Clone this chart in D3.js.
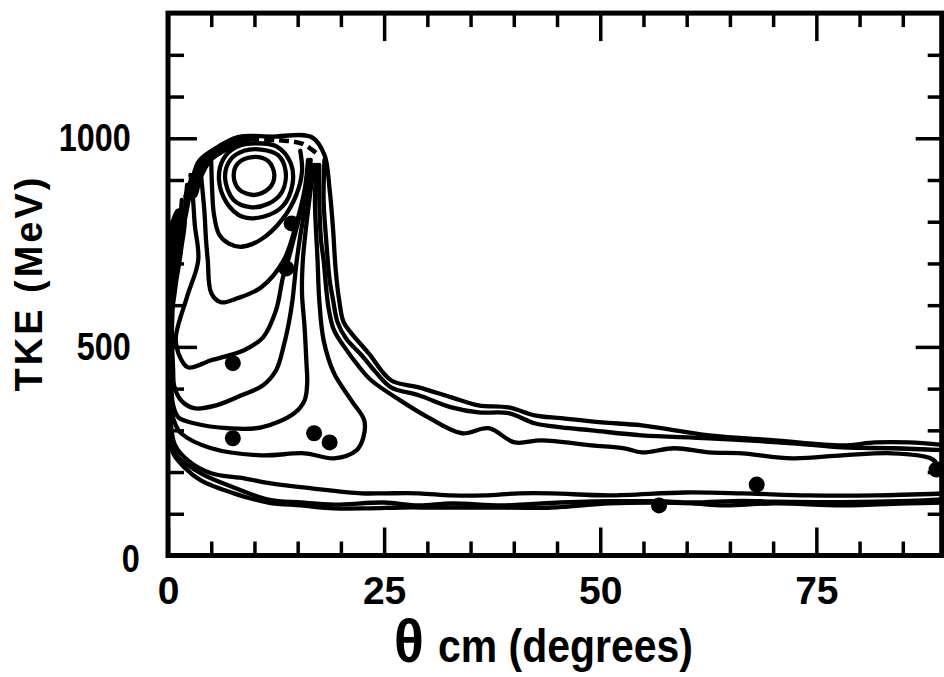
<!DOCTYPE html>
<html>
<head>
<meta charset="utf-8">
<script src="https://cdnjs.cloudflare.com/ajax/libs/d3/7.8.5/d3.min.js"></script>
<style>
body { margin: 0; background: #fff; }
svg { display: block; }
text { font-family: "Liberation Sans", Arial, Helvetica, sans-serif; font-weight: bold; fill: #000; }
</style>
</head>
<body>
<svg id="chart"></svg>
<script>

// contour lines, points are [theta cm (deg), TKE (MeV)]
let ring1 = [[7.6,910],[8.1,940],[9.8,955],[11.6,945],[12.3,912],[11.7,880],[9.9,864],[8.2,878]];
let ring2 = [[6.6,905],[7.2,948],[8.8,970],[10.8,973],[12.7,960],[13.6,922],[13.2,872],[11.6,843],[9.5,835],[7.6,852]];
let ring3 = [[5.9,900],[6.4,950],[8.0,980],[10.2,988],[12.6,980],[14.2,940],[14.4,890],[13.3,838],[11.0,812],[8.6,812],[6.8,845]];

let hump4 = [[5.0,945],[5.1,880],[5.3,820],[5.9,770],[7.0,748],[8.5,740],[10.8,758],[13.2,805],[14.8,862],[15.5,920],[15.3,970]];
let hump5 = [[3.8,915],[4.2,828],[4.4,756],[4.6,708],[5.0,629],[6.1,607],[8.1,617],[10.8,643],[13.4,708],[14.8,792],[15.8,876],[16.2,948]];
let hump6 = [[2.6,912],[2.9,852],[3.1,792],[3.5,708],[2.2,620],[0.9,523],[1.2,485],[2.3,451],[5.0,468],[8.8,492],[11.0,523],[12.5,588],[13.3,667],[13.9,708],[15.1,804],[16.1,888],[16.5,948]];
let hump7 = [[2.2,888],[1.9,816],[1.3,732],[0.7,636],[0.45,540],[0.6,444],[0.7,408],[1.5,372],[3.0,353],[5.6,360],[8.5,384],[11.0,408],[12.5,444],[13.4,504],[14.0,560],[14.4,612],[14.9,708],[15.6,804],[16.3,876],[16.7,936]];
let hump8 = [[1.6,852],[1.3,780],[0.8,708],[0.45,612],[0.35,516],[0.35,420],[0.6,360],[1.2,331],[3.0,317],[7.0,305],[10.8,307],[14.6,341],[15.8,372],[16.1,413],[16.0,468],[15.8,547],[15.5,629],[15.6,708],[16.0,792],[16.5,876],[16.9,936]];
let hump9 = [[1.0,760],[0.5,650],[0.3,540],[0.3,420],[0.4,348],[0.9,312],[1.5,293],[5.0,257],[10.8,240],[15.8,245],[19.2,233],[21.8,252],[22.6,283],[22.7,324],[21.2,372],[19.2,437],[18.0,516],[17.5,612],[17.3,708],[17.0,852],[17.2,936]];

let tailLow = [[17.5,936],[17.5,852],[17.7,756],[18.0,708],[18.3,640],[18.6,590],[19.2,540],[20.4,500],[22.0,455],[23.5,420],[27.0,370],[30.1,331],[34.0,293],[37.1,305],[40.1,271],[43.2,276],[49.0,264],[52.8,257],[54.8,247],[58.6,257],[62.6,247],[66.4,245],[72.2,233],[78.0,240],[83.8,245],[88.2,233],[88.9,218],[88.3,206]];
let tailMid = [[18.1,948],[18.0,852],[18.3,756],[18.7,660],[19.1,612],[19.6,560],[20.6,520],[22.4,480],[24.0,440],[25.8,403],[29.0,384],[32.8,355],[35.9,343],[39.4,341],[42.4,317],[45.5,307],[49.0,300],[54.8,288],[62.6,281],[72.2,269],[78.0,259],[84.0,257],[90,252]];
let outer = [[90,127],[85.7,125],[78.0,120],[70.2,125],[64.4,120],[60.6,125],[56.8,127],[51.0,125],[44.4,115],[36.6,115],[30.8,115],[27.0,115],[23.2,113],[19.2,113],[15.4,120],[11.6,127],[7.6,149],[3.8,180],[1.9,211],[0.6,245],[0.25,300],[0.2,420],[0.25,540],[0.4,640],[0.9,720],[1.9,800],[2.4,852],[3.5,943],[5.6,977],[8.1,1003],[12.0,1004],[16.6,1003],[18.1,960],[18.7,876],[19.1,780],[19.4,684],[19.8,612],[20.3,560],[21.2,533],[23.2,485],[25.8,420],[29.0,403],[32.8,379],[35.9,360],[39.4,355],[42.4,336],[45.5,329],[50.2,319],[54.8,312],[62.6,288],[70.2,276],[78.0,264],[81.8,271],[85.7,271],[90,264]];

let lowBand1 = [[0.3,330],[0.8,265],[2.3,228],[5.0,197],[8.8,185],[11.9,173],[16.6,161],[22.4,149],[25.0,149],[29.0,149],[32.8,144],[36.6,144],[40.6,149],[44.4,149],[51.0,144],[59.8,151],[66.4,149],[74.2,144],[81.8,144],[90,149]];
let lowBand2 = [[0.6,262],[1.2,235],[3.8,197],[7.6,163],[11.6,134],[15.4,127],[19.2,122],[25.0,127],[29.0,120],[32.8,125],[38.6,120],[43.2,125],[51.0,130],[56.8,130],[60.6,127],[66.4,131],[70.2,129],[78.0,128],[85.7,131],[90,135]];

let topInner = [[2.0,860],[3.0,915],[4.6,955],[6.5,985],[8.5,996]];
let topBroken = [[4.6,962],[7.0,992],[10.0,997],[13.0,995],[15.5,987],[17.3,962]];

// solid patches where the printed contours run together
let leftPatch = [[0.2,620],[0.3,790],[1.2,830],[2.0,812],[1.7,740],[1.1,660],[0.6,600]];
let topLeftPatch = [[2.4,860],[3.2,930],[5.4,972],[8.0,1000],[9.5,996],[7.2,975],[5.0,945],[3.8,900],[3.2,860]];

// data points (filled circles)
let dotTheta = [14.3, 13.7, 7.5, 7.5, 16.9, 18.7, 56.8, 68.1, 88.9];
let dotTKE = [796, 688, 461, 281, 293, 271, 120, 170, 206];

// axis ticks
let thetaMajor = [0, 25, 50, 75];
let thetaMinor = [5, 10, 15, 20, 30, 35, 40, 45, 55, 60, 65, 70, 80, 85];
let tkeMajor = [0, 500, 1000];
let tkeMinor = [100, 200, 300, 400, 600, 700, 800, 900, 1100, 1200];


var W = 944, H = 677;
var x = d3.scaleLinear().domain([0, 89.5]).range([168, 941.7]);
var y = d3.scaleLinear().domain([0, 1300]).range([555.5, 13.1]);

var svg = d3.select("#chart").attr("width", W).attr("height", H);
svg.append("rect").attr("width", W).attr("height", H).attr("fill", "#fff");

svg.append("clipPath").attr("id", "plot")
  .append("rect")
  .attr("x", x(0)).attr("y", y(1300))
  .attr("width", x(89.5) - x(0)).attr("height", y(0) - y(1300));

var line = d3.line()
  .x(function(d) { return x(d[0]); })
  .y(function(d) { return y(d[1]); })
  .curve(d3.curveCatmullRom.alpha(0.5));

var ringLine = d3.line()
  .x(function(d) { return x(d[0]); })
  .y(function(d) { return y(d[1]); })
  .curve(d3.curveCatmullRomClosed.alpha(0.5));

var plot = svg.append("g").attr("clip-path", "url(#plot)");

plot.selectAll("path.patch")
  .data([leftPatch, topLeftPatch])
  .enter().append("path")
  .attr("class", "patch")
  .attr("d", ringLine)
  .attr("fill", "#000").attr("stroke", "#000").attr("stroke-width", 2);

plot.selectAll("path.ring")
  .data([ring1, ring2, ring3])
  .enter().append("path")
  .attr("class", "ring")
  .attr("d", ringLine)
  .attr("fill", "none").attr("stroke", "#000").attr("stroke-width", 4.3);

plot.selectAll("path.cont")
  .data([hump4, hump5, hump6, hump7, hump8, hump9, tailLow, tailMid, outer, lowBand1, lowBand2, topInner])
  .enter().append("path")
  .attr("class", "cont")
  .attr("d", line)
  .attr("fill", "none").attr("stroke", "#000").attr("stroke-width", 4.3)
  .attr("stroke-linejoin", "round").attr("stroke-linecap", "round");

plot.append("path")
  .attr("d", line(topBroken))
  .attr("fill", "none").attr("stroke", "#000").attr("stroke-width", 4.5)
  .attr("stroke-dasharray", "10,5");

plot.selectAll("circle")
  .data(dotTheta)
  .enter().append("circle")
  .attr("cx", function(d) { return x(d); })
  .attr("cy", function(d, i) { return y(dotTKE[i]); })
  .attr("r", 8)
  .attr("fill", "#000");

// axes with inward ticks on all four sides
function tidy(g) {
  g.select(".domain").remove();
  g.selectAll(".tick line").attr("stroke", "#000").attr("stroke-width", 3.5);
}

svg.append("g").attr("transform", "translate(0," + y(0) + ")")
  .call(d3.axisBottom(x).tickValues(thetaMinor).tickSize(-14).tickFormat(""))
  .call(tidy);
var xAxis = svg.append("g").attr("transform", "translate(0," + y(0) + ")")
  .call(d3.axisBottom(x).tickValues(thetaMajor).tickSize(-28).tickPadding(21).tickFormat(d3.format("d")))
  .call(tidy);
xAxis.selectAll("text")
  .attr("font-size", 39)
  .attr("font-family", "Liberation Sans, Arial, sans-serif")
  .attr("font-weight", "bold")
  .attr("fill", "#000");

svg.append("g").attr("transform", "translate(0," + y(1300) + ")")
  .call(d3.axisTop(x).tickValues(thetaMinor).tickSize(-14).tickFormat(""))
  .call(tidy);
svg.append("g").attr("transform", "translate(0," + y(1300) + ")")
  .call(d3.axisTop(x).tickValues(thetaMajor).tickSize(-28).tickFormat(""))
  .call(tidy);

svg.append("g").attr("transform", "translate(" + x(0) + ",0)")
  .call(d3.axisLeft(y).tickValues(tkeMinor).tickSize(-16).tickFormat(""))
  .call(tidy);
var yAxis = svg.append("g").attr("transform", "translate(" + x(0) + ",0)")
  .call(d3.axisLeft(y).tickValues(tkeMajor).tickSize(-29).tickPadding(45).tickFormat(d3.format("d")))
  .call(tidy);
yAxis.selectAll("text")
  .attr("font-size", 39)
  .attr("font-family", "Liberation Sans, Arial, sans-serif")
  .attr("font-weight", "bold")
  .attr("fill", "#000")
  .attr("transform", "scale(0.83,1)")
  .attr("dx", function(d) { return d === 0 ? 11 : 0; })
  .attr("y", function(d) { return d === 0 ? 4 : 0; });

svg.append("g").attr("transform", "translate(" + x(89.5) + ",0)")
  .call(d3.axisRight(y).tickValues(tkeMinor).tickSize(-14).tickFormat(""))
  .call(tidy);
svg.append("g").attr("transform", "translate(" + x(89.5) + ",0)")
  .call(d3.axisRight(y).tickValues(tkeMajor).tickSize(-26).tickFormat(""))
  .call(tidy);

// frame
svg.append("rect")
  .attr("x", x(0)).attr("y", y(1300))
  .attr("width", x(89.5) - x(0)).attr("height", y(0) - y(1300))
  .attr("fill", "none").attr("stroke", "#000").attr("stroke-width", 5);

// axis titles
var xt = svg.append("text").attr("transform", "translate(394,662) scale(0.89,1)");
xt.append("tspan").attr("font-size", 62).text("θ");
xt.append("tspan").attr("font-size", 46).attr("dx", 16).text("cm (degrees)");

svg.append("text")
  .attr("transform", "translate(42,283) rotate(-90)")
  .attr("text-anchor", "middle")
  .attr("font-size", 38)
  .attr("letter-spacing", 3)
  .text("TKE (MeV)");

</script>
</body>
</html>
